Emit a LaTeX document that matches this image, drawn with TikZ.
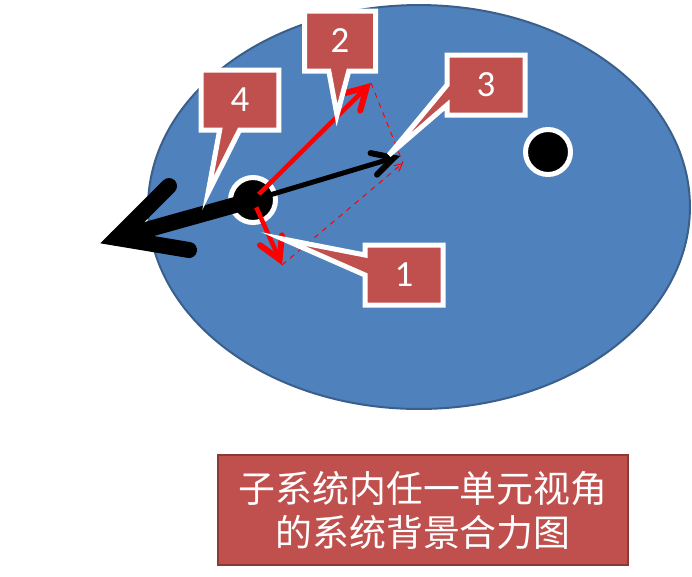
\documentclass[tikz,border=0pt]{standalone}
\usepackage{fontspec}
\newfontfamily\cjkfont{Noto Sans CJK SC}
\newfontfamily\numfont{Carlito}
\definecolor{disc}{HTML}{4F81BD}
\definecolor{discedge}{HTML}{3A5F8B}
\definecolor{tag}{HTML}{C0504D}
\definecolor{tagedge}{HTML}{8C3836}
\usetikzlibrary{arrows.meta}
\usetikzlibrary{shapes.callouts}
\tikzstyle{unit}=[circle, inner sep=0pt, minimum size=0.9cm, fill=black, draw=white, line width=0.1cm]
\tikzstyle{tagbox}=[rectangle callout, fill=tag, draw=white, line width=0.1cm, text=white,
    minimum width=1.56cm, minimum height=1.2cm, inner sep=0pt, callout pointer width=0.4cm,
    font=\numfont\fontsize{21}{24}\selectfont]
\tikzstyle{force}=[red, line width=0.09cm, -{Straight Barb[line cap=round, line join=miter, line width=0.12cm, length=0.42cm, width=0.48cm]}]
\tikzstyle{part}=[red, line width=0.02cm, dashed]
\tikzstyle{resultant}=[black, line width=0.32cm, line cap=round, line join=miter]

\begin{document}
\begin{tikzpicture}[x=0.02cm, y=-0.02cm]
    \useasboundingbox (0,0) rectangle (692,576);
    % subsystem
    \draw [discedge, fill=disc, line width=0.04cm] (419,207) ellipse [x radius=5.42cm, y radius=4.04cm];
    \node [unit] (me) at (253,200) {};
    \node [unit] (other) at (548,152) {};
    % tips of the vectors
    \coordinate (f1) at (282,265);
    \coordinate (f2) at (371,83);
    \coordinate (f3) at (400,156);
    \coordinate (fs) at (403,163);
    \coordinate (f4) at (117,238);
    % component forces
    \draw [part] (f2) -- (fs);
    \draw [part, -{Straight Barb[length=0.15cm, width=0.15cm]}] (f1) -- (fs);
    \draw [force] (me.center) -- (f2);
    \draw [force] (me.center) -- (f1);
    \draw [line width=0.1cm, -{Straight Barb[line cap=round, line join=miter, line width=0.12cm, length=0.42cm, width=0.45cm]}] (me.center) -- (f3);
    % background resultant
    \draw [resultant] (me.center) -- (f4);
    \draw [resultant] (f4) ++(52,-52) -- (f4) -- +(72,12);
    % labels
    \node [tagbox, callout absolute pointer={(283,239)}] (tag1) at (404,275) {1};
    \node [tagbox, minimum width=1.42cm, callout absolute pointer={(337,115)}] (tag2) at (340,41) {2};
    \node [tagbox, callout absolute pointer={(389,155)}] (tag3) at (486,85) {3};
    \node [tagbox, callout absolute pointer={(208,193)}] (tag4) at (240,100) {4};
    \node [fill=tag, draw=tagedge, line width=0.05cm, text=white, minimum width=8.2cm, minimum height=2.2cm,
        align=center, font=\cjkfont\fontsize{21}{25}\selectfont] (title) at (423,510)
        {子系统内任一单元视角\\的系统背景合力图};
\end{tikzpicture}
\end{document}
